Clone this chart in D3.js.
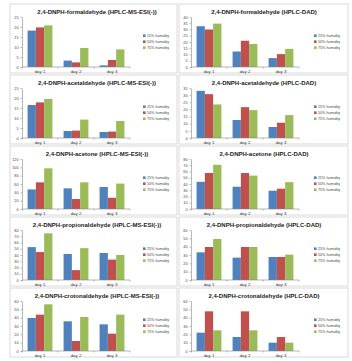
<!DOCTYPE html>
<html>
<head>
<style>
  body, html { margin: 0; padding: 0; background: #fff; }
  text { font-family: Arial, "Liberation Sans", sans-serif; }
</style>
</head>
<body>
<svg id="svg" width="352" height="361"></svg>
<script src="https://d3js.org/d3.v7.min.js"></script>
<script>
// categories and series
const days = ["day 1", "day 2", "day 3"];
const series = ["25% humidity", "50% humidity", "75% humidity"];
const colors = ["#4F81BD", "#C0504D", "#9BBB59"];

// chart titles, in reading order (left, right, left, right ...)
const titles = [
  "2,4-DNPH-formaldehyde (HPLC-MS-ESI(-))",
  "2,4-DNPH-formaldehyde (HPLC-DAD)",
  "2,4-DNPH-acetaldehyde (HPLC-MS-ESI(-))",
  "2,4-DNPH-acetaldehyde (HPLC-DAD)",
  "2,4-DNPH-acetone (HPLC-MS-ESI(-))",
  "2,4-DNPH-acetone (HPLC-DAD)",
  "2,4-DNPH-propionaldehyde (HPLC-MS-ESI(-))",
  "2,4-DNPH-propionaldehyde (HPLC-DAD)",
  "2,4-DNPH-crotonaldehyde (HPLC-MS-ESI(-))",
  "2,4-DNPH-crotonaldehyde (HPLC-DAD)"
];

// y axis max and tick step of each chart
const yMax  = [25, 40, 25, 35, 120, 80, 80, 60, 60, 60];
const yStep = [5, 5, 5, 5, 20, 10, 10, 10, 10, 10];

// values: one row per day, one entry per humidity
const formaldehydeMS  = [[18.2, 19.8, 20.8], [3.2, 2.3, 9.5], [0.8, 3.5, 8.8]];
const formaldehydeDAD = [[32.6, 30.0, 34.7], [12.4, 21.0, 18.4], [7.1, 10.3, 14.5]];
const acetaldehydeMS  = [[16.5, 17.8, 19.5], [3.5, 3.7, 9.2], [3.0, 3.2, 8.5]];
const acetaldehydeDAD = [[33.0, 30.7, 23.5], [12.6, 21.6, 19.5], [7.7, 10.7, 16.0]];
const acetoneMS       = [[47, 64, 97.6], [49.6, 24, 64], [52.8, 27, 61]];
const acetoneDAD      = [[43.5, 57.6, 70.7], [35.6, 57.6, 53.4], [29.3, 32.5, 43]];
const propionalMS     = [[52.6, 44.7, 74.7], [41.6, 15.8, 51], [43.2, 32.6, 40]];
const propionalDAD    = [[33.2, 39.6, 49.2], [26.8, 39.6, 39.6], [27.6, 27.6, 30.4]];
const crotonalMS      = [[39.6, 43.6, 56], [35.6, 12, 40.8], [32, 20.8, 43.6]];
const crotonalDAD     = [[22, 47.6, 24.8], [16.8, 47.6, 24.8], [10, 16.8, 10]];

const allValues = [formaldehydeMS, formaldehydeDAD, acetaldehydeMS, acetaldehydeDAD,
  acetoneMS, acetoneDAD, propionalMS, propionalDAD, crotonalMS, crotonalDAD];

const svg = d3.select("#svg");

// panel geometry
const colX = [10, 179];
const panelW = [167, 169];
const rowTop = i => 4 + 71 * i;
const panelH = 69;

allValues.forEach((vals, k) => {
  const col = k % 2, row = Math.floor(k / 2);
  const px = colX[col], py = rowTop(row);
  const g = svg.append("g").attr("transform", `translate(${px},${py})`);

  // frame
  g.append("rect")
    .attr("x", 0).attr("y", 0)
    .attr("width", panelW[col]).attr("height", panelH)
    .attr("fill", "#fff").attr("stroke", "#d0d0d0").attr("stroke-width", 0.8);

  const left = 12, right = 120, top = 13, bottom = 63;

  const x = d3.scaleBand().domain(days).range([left, right])
    .paddingInner(0.31).paddingOuter(0.155);
  const xs = d3.scaleBand().domain(d3.range(3)).range([0, x.bandwidth()]);
  const y = d3.scaleLinear().domain([0, yMax[k]]).range([bottom, top]);

  // title
  g.append("text")
    .attr("x", col === 0 ? 87 : 85).attr("y", 9.5)
    .attr("text-anchor", "middle")
    .attr("font-size", 6).attr("font-weight", "bold")
    .attr("fill", "#222")
    .text(titles[k]);

  // y axis
  const ya = g.append("g").attr("transform", `translate(${left},0)`)
    .call(d3.axisLeft(y).tickValues(d3.range(0, yMax[k] + 0.01, yStep[k]))
      .tickSize(1.5).tickPadding(2).tickSizeOuter(0));
  ya.select(".domain").attr("stroke", "#888").attr("stroke-width", 0.6);
  ya.selectAll(".tick line").attr("stroke", "#888").attr("stroke-width", 0.6);
  ya.selectAll(".tick text").attr("font-size", 3.8).attr("fill", "#444")
    .style("font-family", "Arial, sans-serif");

  // bars
  g.append("g").selectAll("g")
    .data(vals)
    .join("g")
    .attr("transform", (d, i) => `translate(${x(days[i])},0)`)
    .selectAll("rect")
    .data(d => d)
    .join("rect")
    .attr("x", (d, j) => xs(j))
    .attr("y", d => y(d))
    .attr("width", xs.bandwidth())
    .attr("height", d => bottom - y(d))
    .attr("fill", (d, j) => colors[j]);

  // x axis line with ticks at category boundaries
  g.append("line")
    .attr("x1", left).attr("x2", right)
    .attr("y1", bottom).attr("y2", bottom)
    .attr("stroke", "#888").attr("stroke-width", 0.6);
  const step = x.step();
  g.selectAll(".xt")
    .data(d3.range(4))
    .join("line")
    .attr("class", "xt")
    .attr("x1", i => left + i * step).attr("x2", i => left + i * step)
    .attr("y1", bottom).attr("y2", bottom + 1.5)
    .attr("stroke", "#888").attr("stroke-width", 0.6);

  g.selectAll(".xl")
    .data(days)
    .join("text")
    .attr("class", "xl")
    .attr("x", d => x(d) + x.bandwidth() / 2)
    .attr("y", bottom + 6)
    .attr("text-anchor", "middle")
    .attr("font-size", 4.4).attr("fill", "#333")
    .text(d => d);

  // legend
  const lg = g.append("g").attr("transform", `translate(${col === 0 ? 133 : 135},32)`);
  series.forEach((s, j) => {
    lg.append("rect")
      .attr("x", 0).attr("y", j * 6 - 1.6)
      .attr("width", 2.6).attr("height", 2.6)
      .attr("fill", colors[j]);
    lg.append("text")
      .attr("x", 4).attr("y", j * 6 + 1.2)
      .attr("font-size", 3.7).attr("fill", "#444")
      .text(s);
  });
});
</script>
</body>
</html>
